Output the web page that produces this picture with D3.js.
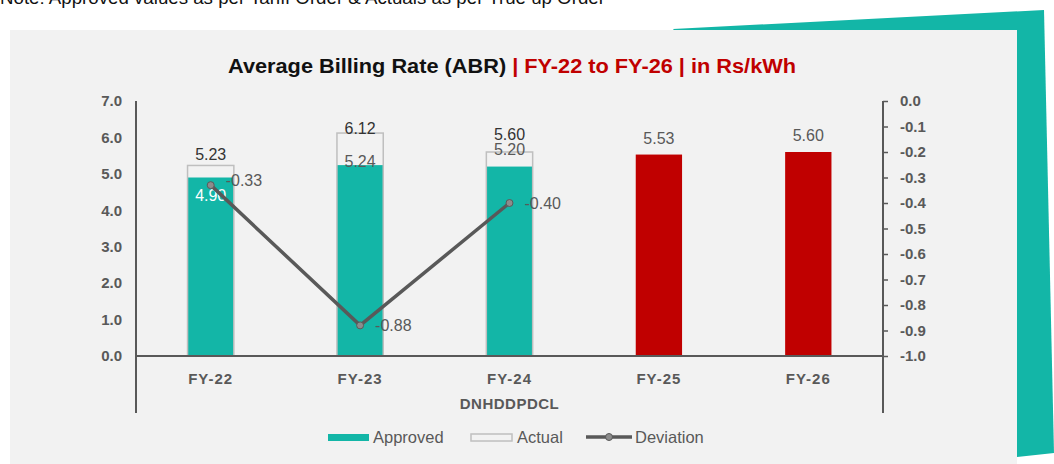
<!DOCTYPE html>
<html>
<head>
<meta charset="utf-8">
<script src="https://cdn.jsdelivr.net/npm/d3@7"></script>
<style>
  body { margin: 0; background: #fff; }
  svg text { font-family: "Liberation Sans", Arial, sans-serif; }
</style>
</head>
<body>
<div id="chart"></div>
<script>
// chart data
const categories = ["FY-22", "FY-23", "FY-24", "FY-25", "FY-26"];
const approved = [4.90, 5.24, 5.20, null, null];
const actual = [5.23, 6.12, 5.60, null, null];
const projected = [null, null, null, 5.53, 5.60];
const deviation = [-0.33, -0.88, -0.40, null, null];
const leftTicks = [0, 1, 2, 3, 4, 5, 6, 7];
const rightTicks = [0, -0.1, -0.2, -0.3, -0.4, -0.5, -0.6, -0.7, -0.8, -0.9, -1.0];
const legendItems = ["Approved", "Actual", "Deviation"];

const W = 1054, H = 464;
const teal = "#13b6a7", red = "#c00000", grey = "#595959";

// plain hyphen instead of unicode minus
const f1 = v => d3.format(".1f")(v).replace("\u2212", "-");
const f2 = v => d3.format(".2f")(v).replace("\u2212", "-");

const svg = d3.select("#chart").append("svg")
    .attr("width", W)
    .attr("height", H);

// teal decoration behind the panel
svg.append("path")
    .attr("d", "M673,29 L1044,10 L1054,453 L1017,457 Z")
    .attr("fill", teal);

// grey panel
svg.append("rect")
    .attr("x", 10).attr("y", 30)
    .attr("width", 1007).attr("height", 434)
    .attr("fill", "#f2f2f2");

// note above (cut off at top)
svg.append("text")
    .attr("x", 0).attr("y", 4)
    .attr("font-size", 18.7)
    .attr("fill", "#111")
    .text("Note: Approved values as per Tariff Order & Actuals as per True up Order");

// title, slightly stretched like the original
const title = svg.append("text")
    .attr("transform", "translate(512,73) scale(1.115,1)")
    .attr("text-anchor", "middle")
    .attr("font-size", 19.5)
    .attr("font-weight", "bold");
title.append("tspan").attr("fill", "#111").text("Average Billing Rate (ABR) ");
title.append("tspan").attr("fill", red).text("| FY-22 to FY-26 | in Rs/kWh");

const x = d3.scaleBand()
    .domain(categories)
    .range([136, 883])
    .paddingInner(0.69)
    .paddingOuter(0.345);

const y = d3.scaleLinear().domain([0, 7]).range([356, 101]);
const y2 = d3.scaleLinear().domain([-1, 0]).range([356, 101]);

// left axis (no ticks)
const leftAxis = svg.append("g")
    .attr("transform", "translate(136,0)")
    .call(d3.axisLeft(y).tickValues(leftTicks).tickFormat(f1).tickSize(0).tickPadding(14));
leftAxis.select(".domain").remove();
leftAxis.selectAll("text")
    .attr("font-size", 15).attr("font-weight", "bold").attr("fill", grey);

// right axis
const rightAxis = svg.append("g")
    .attr("transform", "translate(883,0)")
    .call(d3.axisRight(y2).tickValues(rightTicks).tickFormat(f1).tickSize(5).tickPadding(12));
rightAxis.select(".domain").remove();
rightAxis.selectAll("line").attr("stroke", grey).attr("stroke-width", 1.5);
rightAxis.selectAll("text")
    .attr("font-size", 15).attr("font-weight", "bold").attr("fill", grey);

// vertical axis lines
svg.append("line").attr("x1", 136).attr("x2", 136).attr("y1", 101).attr("y2", 413)
    .attr("stroke", grey).attr("stroke-width", 2);
svg.append("line").attr("x1", 883).attr("x2", 883).attr("y1", 101).attr("y2", 413)
    .attr("stroke", grey).attr("stroke-width", 2);

// bars
const idx = d3.range(categories.length);

svg.append("g").selectAll("rect")
    .data(idx.filter(i => approved[i] != null))
    .join("rect")
    .attr("x", i => x(categories[i]))
    .attr("y", i => y(approved[i]))
    .attr("width", x.bandwidth())
    .attr("height", i => y(0) - y(approved[i]))
    .attr("fill", teal);

svg.append("g").selectAll("rect")
    .data(idx.filter(i => actual[i] != null))
    .join("rect")
    .attr("x", i => x(categories[i]))
    .attr("y", i => y(actual[i]))
    .attr("width", x.bandwidth())
    .attr("height", i => y(0) - y(actual[i]))
    .attr("fill", "none")
    .attr("stroke", "#bfbfbf")
    .attr("stroke-width", 1.5);

svg.append("g").selectAll("rect")
    .data(idx.filter(i => projected[i] != null))
    .join("rect")
    .attr("x", i => x(categories[i]))
    .attr("y", i => y(projected[i]))
    .attr("width", x.bandwidth())
    .attr("height", i => y(0) - y(projected[i]))
    .attr("fill", red);

// x baseline
svg.append("line").attr("x1", 136).attr("x2", 883).attr("y1", 356).attr("y2", 356)
    .attr("stroke", grey).attr("stroke-width", 2);

// category labels
const cx = c => x(c) + x.bandwidth() / 2;
svg.append("g").selectAll("text")
    .data(categories)
    .join("text")
    .attr("x", d => cx(d))
    .attr("y", 384)
    .attr("text-anchor", "middle")
    .attr("font-size", 15).attr("font-weight", "bold").attr("fill", grey)
    .attr("letter-spacing", 1)
    .text(d => d);

svg.append("text")
    .attr("x", cx("FY-24")).attr("y", 409)
    .attr("text-anchor", "middle")
    .attr("font-size", 15).attr("font-weight", "bold").attr("fill", grey)
    .attr("letter-spacing", 0.5)
    .text("DNHDDPDCL");

// value labels
const actualDy = [-5, 1, -12];
svg.append("g").selectAll("text")
    .data(idx.filter(i => actual[i] != null))
    .join("text")
    .attr("x", i => cx(categories[i]))
    .attr("y", i => y(actual[i]) + actualDy[i])
    .attr("text-anchor", "middle")
    .attr("font-size", 16).attr("fill", "#333")
    .text(i => f2(actual[i]));

const approvedDy = [23, 2, -12];
svg.append("g").selectAll("text")
    .data(idx.filter(i => approved[i] != null))
    .join("text")
    .attr("x", i => cx(categories[i]))
    .attr("y", i => y(approved[i]) + approvedDy[i])
    .attr("text-anchor", "middle")
    .attr("font-size", 16)
    .attr("fill", i => i === 0 ? "#fff" : grey)
    .text(i => f2(approved[i]));

svg.append("g").selectAll("text")
    .data(idx.filter(i => projected[i] != null))
    .join("text")
    .attr("x", i => cx(categories[i]))
    .attr("y", i => y(projected[i]) - 11)
    .attr("text-anchor", "middle")
    .attr("font-size", 16).attr("fill", grey)
    .text(i => f2(projected[i]));

// deviation line
const devIdx = idx.filter(i => deviation[i] != null);
svg.append("path")
    .datum(devIdx)
    .attr("d", d3.line().x(i => cx(categories[i])).y(i => y2(deviation[i])))
    .attr("fill", "none")
    .attr("stroke", grey)
    .attr("stroke-width", 3.5);

svg.append("g").selectAll("circle")
    .data(devIdx)
    .join("circle")
    .attr("cx", i => cx(categories[i]))
    .attr("cy", i => y2(deviation[i]))
    .attr("r", 3.5)
    .attr("fill", "#8c8c8c")
    .attr("stroke", grey)
    .attr("stroke-width", 1);

const devDy = [-5, 0, 0];
svg.append("g").selectAll("text")
    .data(devIdx)
    .join("text")
    .attr("x", i => cx(categories[i]) + 15)
    .attr("y", i => y2(deviation[i]) + devDy[i])
    .attr("dy", "0.35em")
    .attr("font-size", 16).attr("fill", grey)
    .text(i => f2(deviation[i]));

// legend
const lg = svg.append("g").attr("transform", "translate(0,437)");
lg.append("rect").attr("x", 328).attr("y", -3).attr("width", 41).attr("height", 7).attr("fill", teal);
lg.append("rect").attr("x", 471).attr("y", -3).attr("width", 41).attr("height", 7)
    .attr("fill", "none").attr("stroke", "#bfbfbf").attr("stroke-width", 1.5);
lg.append("line").attr("x1", 586).attr("x2", 632).attr("y1", 0).attr("y2", 0)
    .attr("stroke", grey).attr("stroke-width", 3.5);
lg.append("circle").attr("cx", 609).attr("cy", 0).attr("r", 3.5)
    .attr("fill", "#8c8c8c").attr("stroke", grey);
const legendX = [373, 517, 635];
lg.selectAll("text.leg")
    .data(legendItems)
    .join("text")
    .attr("class", "leg")
    .attr("x", (d, i) => legendX[i])
    .attr("y", 0)
    .attr("dy", "0.35em")
    .attr("font-size", 16.5).attr("fill", grey)
    .text(d => d);
</script>
</body>
</html>
